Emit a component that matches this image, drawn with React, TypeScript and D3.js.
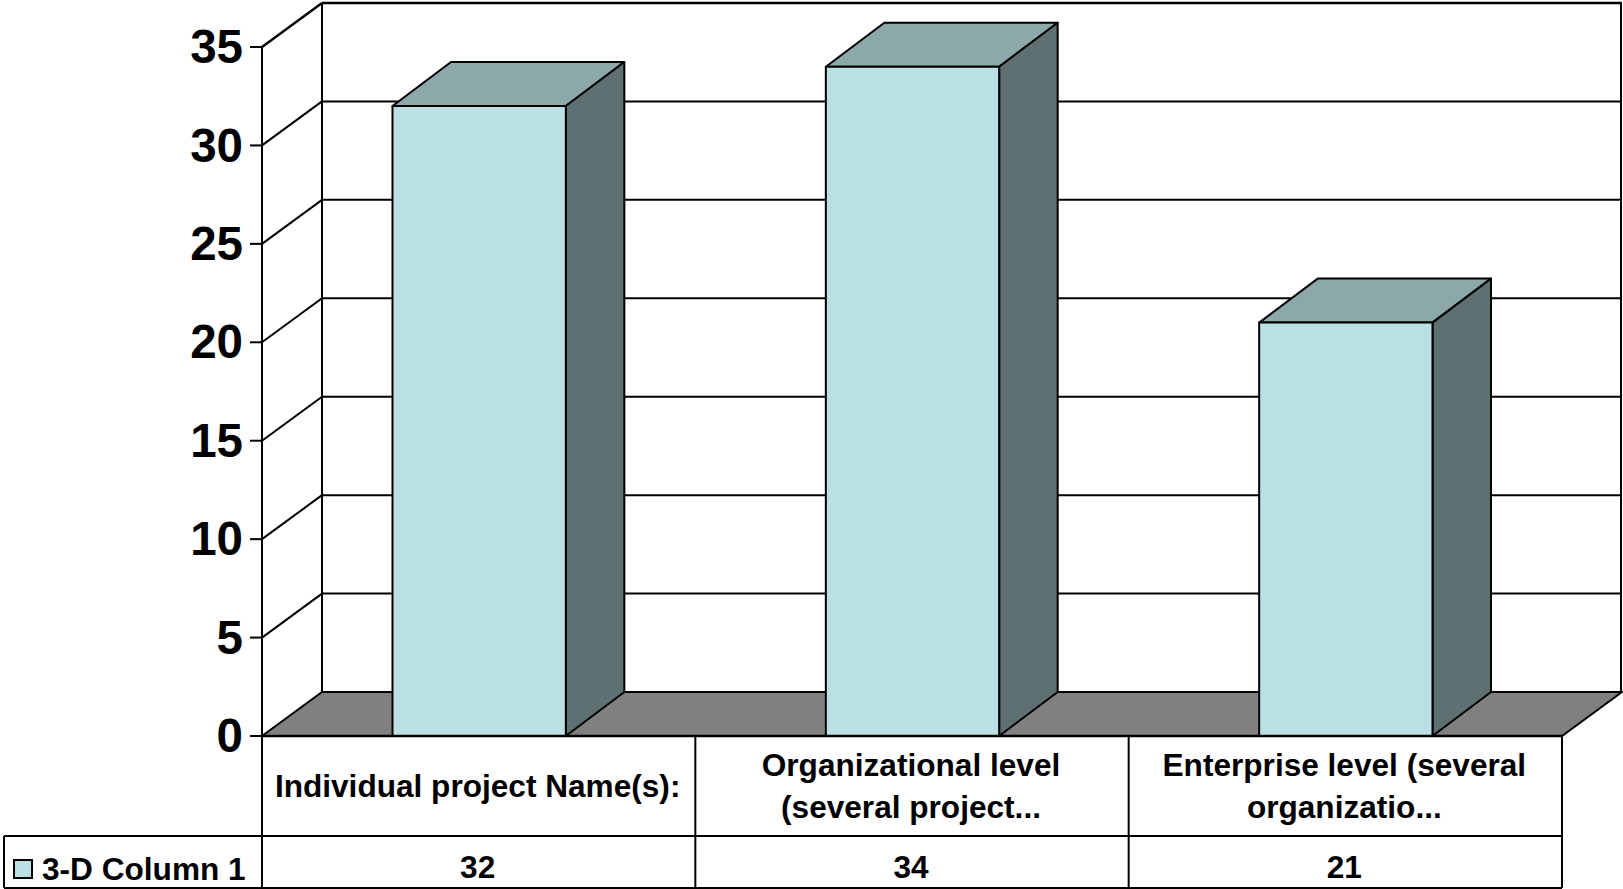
import React from "react";
import * as d3 from "d3";

const categoryLines = [
  ["Individual project Name(s):"],
  ["Organizational level", "(several project..."],
  ["Enterprise level (several", "organizatio..."],
];
const seriesName = "3-D Column 1";
const seriesValues = [32, 34, 21];
const yTicks = [0, 5, 10, 15, 20, 25, 30, 35];

const W = 1623, H = 889;
const frontL = 262, frontR = 1562, y0 = 736, yTop = 47;
const wallDx = 60, wallDy = 44, barDx = 58.5;
const barShift = 0.5;
const tableL = 4, row1 = 836, row2 = 888;

const font = "'Liberation Sans', Arial, sans-serif";
const C = { front: "#bbe0e3", top: "#8ca8aa", side: "#5e7072", floor: "#808080" };

export default function App() {
  const y = d3.scaleLinear().domain([0, 35]).range([y0, yTop]);
  const x = d3.scaleBand<number>().domain(d3.range(seriesValues.length)).range([frontL, frontR]).paddingInner(0.6).paddingOuter(0.3);
  const line = d3.line();
  const poly = (pts: [number, number][]) => line(pts) + "Z";
  const edges = [frontL, ...d3.range(1, seriesValues.length).map((i) => (x(i - 1)! + x.bandwidth() / 2 + x(i)! + x.bandwidth() / 2) / 2), frontR];
  const wallTop = y(35) - wallDy;
  const wallBottom = y0 - wallDy;
  return (
    <svg width={W} height={H} viewBox={`0 0 ${W} ${H}`} style={{ position: "fixed", left: 0, top: 0, background: "#fff" }} fontFamily={font} fontWeight="bold">
      {/* floor */}
      <path d={poly([[frontL, y0], [frontL + wallDx, wallBottom], [frontR + wallDx, wallBottom], [frontR, y0]])} fill={C.floor} stroke="#000" strokeWidth={2} />
      {/* back wall grid */}
      {yTicks.map((t) => (
        <g key={t} stroke="#000" strokeWidth={t === 35 ? 2.5 : 2} fill="none">
          {t > 0 && <line x1={frontL} y1={y(t)} x2={frontL + wallDx} y2={y(t) - wallDy} />}
          {t > 0 && <line x1={frontL + wallDx} y1={y(t) - wallDy} x2={frontR + wallDx} y2={y(t) - wallDy} />}
          <line x1={frontL - 12} y1={y(t)} x2={frontL} y2={y(t)} strokeWidth={2} />
        </g>
      ))}
      <line x1={frontL} y1={yTop} x2={frontL} y2={y0} stroke="#000" strokeWidth={2} />
      <line x1={frontL + wallDx} y1={wallTop} x2={frontL + wallDx} y2={wallBottom} stroke="#000" strokeWidth={2} />
      <line x1={frontR + wallDx - 1} y1={wallTop} x2={frontR + wallDx - 1} y2={wallBottom} stroke="#000" strokeWidth={2} />
      {yTicks.map((t) => (
        <text key={t} x={243} y={y(t) - 1} dy="0.36em" textAnchor="end" fontSize={47.5} fill="#000">{t}</text>
      ))}
      {/* bars */}
      {seriesValues.map((v, i) => {
        const a = x(i)! + barShift, b = a + x.bandwidth(), top = y(v);
        return (
          <g key={i} stroke="#000" strokeWidth={2} strokeLinejoin="round">
            <path d={poly([[a, top], [a + barDx, top - wallDy], [b + barDx, top - wallDy], [b, top]])} fill={C.top} />
            <path d={poly([[b, top], [b + barDx, top - wallDy], [b + barDx, wallBottom], [b, y0]])} fill={C.side} />
            <path d={poly([[a, top], [b, top], [b, y0], [a, y0]])} fill={C.front} />
          </g>
        );
      })}
      {/* data table */}
      <g stroke="#000" strokeWidth={2} fill="none">
        <line x1={frontL} y1={y0} x2={frontR} y2={y0} strokeWidth={2.5} />
        <line x1={tableL} y1={row1} x2={frontR} y2={row1} />
        <line x1={tableL} y1={row2} x2={frontR} y2={row2} />
        <line x1={tableL} y1={row1} x2={tableL} y2={row2} />
        {edges.map((e) => <line key={e} x1={e} y1={y0} x2={e} y2={row2} />)}
      </g>
      {categoryLines.map((lines, i) => {
        const cx = x(i)! + x.bandwidth() / 2 - 1;
        const lh = 42;
        const mid = (y0 + row1) / 2 - 0.5;
        return lines.map((l, j) => (
          <text key={j} x={cx} y={mid + (j - (lines.length - 1) / 2) * lh} dy="0.36em" textAnchor="middle" fontSize={31.6} fill="#000">{l}</text>
        ));
      })}
      {seriesValues.map((v, i) => (
        <text key={i} x={x(i)! + x.bandwidth() / 2 - 1} y={867} dy="0.36em" textAnchor="middle" fontSize={31.6} fill="#000">{v}</text>
      ))}
      <rect x={14} y={860} width={18} height={18} fill={C.front} stroke="#000" strokeWidth={2} />
      <text x={42} y={869} dy="0.36em" fontSize={31.6} fill="#000">{seriesName}</text>
    </svg>
  );
}
